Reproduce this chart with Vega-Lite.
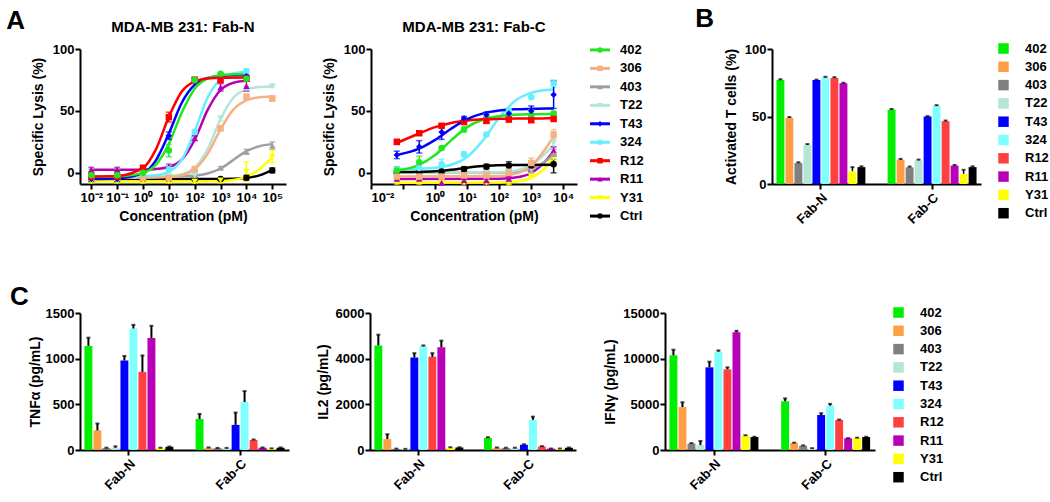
{
"$schema":"https://vega.github.io/schema/vega-lite/v6.json",
"background":"white",
"padding":{"left":6,"top":6,"right":0,"bottom":0},
"config":{
 "font":"Liberation Sans",
 "view":{"stroke":null},
 "axis":{"labelFont":"Liberation Sans","labelFontWeight":"bold","labelFontSize":13,"labelColor":"black","titleFont":"Liberation Sans","titleFontWeight":"bold","titleFontSize":14,"titleColor":"black","domainColor":"black","domainWidth":2,"tickColor":"black","tickWidth":2,"tickSize":5,"grid":false,"labelPadding":1},
 "legend":{"labelFont":"Liberation Sans","labelFontWeight":"bold","labelFontSize":13,"labelColor":"black"},
 "title":{"font":"Liberation Sans","fontWeight":"bold","fontSize":15,"color":"black"}
},
"datasets":{
"names":[{"c":"402"},{"c":"306"},{"c":"403"},{"c":"T22"},{"c":"T43"},{"c":"324"},{"c":"R12"},{"c":"R11"},{"c":"Y31"},{"c":"Ctrl"}],
"cN":[
{"c":"Ctrl","x":0.01,"y":-5},{"c":"Ctrl","x":1000,"y":-4.9},{"c":"Ctrl","x":3162,"y":-4.8},{"c":"Ctrl","x":10000,"y":-4.1},{"c":"Ctrl","x":31620,"y":-2.0},{"c":"Ctrl","x":100000,"y":2.5},
{"c":"Y31","x":0.01,"y":-7},{"c":"Y31","x":100,"y":-7},{"c":"Y31","x":316.2,"y":-6.9},{"c":"Y31","x":1000,"y":-6.6},{"c":"Y31","x":3162,"y":-5.7},{"c":"Y31","x":10000,"y":-3.1},{"c":"Y31","x":31620,"y":3.0},{"c":"Y31","x":100000,"y":12.5},
{"c":"403","x":0.01,"y":-3},{"c":"403","x":1,"y":-3},{"c":"403","x":10,"y":-2.9},{"c":"403","x":31.62,"y":-2.7},{"c":"403","x":100,"y":-2.2},{"c":"403","x":316.2,"y":-0.5},{"c":"403","x":1000,"y":3.5},{"c":"403","x":3162,"y":10.5},{"c":"403","x":10000,"y":17.5},{"c":"403","x":31620,"y":21.5},{"c":"403","x":100000,"y":23.2},
{"c":"T22","x":0.01,"y":-3},{"c":"T22","x":1,"y":-3},{"c":"T22","x":10,"y":-2.5},{"c":"T22","x":31.62,"y":-1.0},{"c":"T22","x":100,"y":4.2},{"c":"T22","x":316.2,"y":19.2},{"c":"T22","x":1000,"y":43.4},{"c":"T22","x":3162,"y":60.8},{"c":"T22","x":10000,"y":67.4},{"c":"T22","x":31620,"y":69.3},{"c":"T22","x":100000,"y":69.8},
{"c":"306","x":0.01,"y":-4},{"c":"306","x":1,"y":-4},{"c":"306","x":10,"y":-3.4},{"c":"306","x":31.62,"y":-1.9},{"c":"306","x":100,"y":2.9},{"c":"306","x":316.2,"y":15.3},{"c":"306","x":1000,"y":35.2},{"c":"306","x":3162,"y":51.3},{"c":"306","x":10000,"y":58.6},{"c":"306","x":31620,"y":61.0},{"c":"306","x":100000,"y":61.7},
{"c":"R11","x":0.01,"y":2.5},{"c":"R11","x":0.1,"y":2.5},{"c":"R11","x":1,"y":2.6},{"c":"R11","x":3.162,"y":3.1},{"c":"R11","x":10,"y":4.7},{"c":"R11","x":31.62,"y":10.6},{"c":"R11","x":100,"y":26.7},{"c":"R11","x":316.2,"y":50.8},{"c":"R11","x":1000,"y":66.9},{"c":"R11","x":3162,"y":72.8},{"c":"R11","x":10000,"y":74.4},
{"c":"324","x":0.01,"y":-3},{"c":"324","x":0.1,"y":-3},{"c":"324","x":1,"y":-2.7},{"c":"324","x":3.162,"y":-2.0},{"c":"324","x":10,"y":0.9},{"c":"324","x":31.62,"y":10.6},{"c":"324","x":100,"y":33.6},{"c":"324","x":316.2,"y":60.9},{"c":"324","x":1000,"y":75.5},{"c":"324","x":3162,"y":80.3},{"c":"324","x":10000,"y":81.6},
{"c":"T43","x":0.01,"y":-5},{"c":"T43","x":0.1,"y":-4.6},{"c":"T43","x":1,"y":-0.1},{"c":"T43","x":3.162,"y":10.1},{"c":"T43","x":10,"y":31.7},{"c":"T43","x":31.62,"y":56.6},{"c":"T43","x":100,"y":71.2},{"c":"T43","x":316.2,"y":76.6},{"c":"T43","x":1000,"y":78.3},{"c":"T43","x":10000,"y":79},
{"c":"402","x":0.01,"y":-3},{"c":"402","x":0.1,"y":-2.8},{"c":"402","x":1,"y":0},{"c":"402","x":3.162,"y":6.6},{"c":"402","x":10,"y":23.4},{"c":"402","x":31.62,"y":48.8},{"c":"402","x":100,"y":68.0},{"c":"402","x":316.2,"y":76.2},{"c":"402","x":1000,"y":78.9},{"c":"402","x":3162,"y":79.6},{"c":"402","x":10000,"y":79.9},
{"c":"R12","x":0.01,"y":-3},{"c":"R12","x":0.1,"y":-2.5},{"c":"R12","x":1,"y":4.0},{"c":"R12","x":3.162,"y":19.0},{"c":"R12","x":10,"y":45.2},{"c":"R12","x":31.62,"y":65.6},{"c":"R12","x":100,"y":73.8},{"c":"R12","x":316.2,"y":76.2},{"c":"R12","x":1000,"y":76.8},{"c":"R12","x":10000,"y":77.0}
],
"pN":[
{"c":"Ctrl","x":0.01,"y":-5,"e":1},{"c":"Ctrl","x":0.1,"y":-5,"e":1},{"c":"Ctrl","x":1,"y":-5,"e":1},{"c":"Ctrl","x":10,"y":-5,"e":1},{"c":"Ctrl","x":100,"y":-5,"e":1},{"c":"Ctrl","x":1000,"y":-5,"e":1},{"c":"Ctrl","x":10000,"y":-4,"e":2},{"c":"Ctrl","x":100000,"y":2,"e":2},
{"c":"Y31","x":0.01,"y":-7,"e":1},{"c":"Y31","x":0.1,"y":-7,"e":1},{"c":"Y31","x":1,"y":-7,"e":1},{"c":"Y31","x":10,"y":-7,"e":1},{"c":"Y31","x":100,"y":-7,"e":1},{"c":"Y31","x":1000,"y":-6,"e":2},{"c":"Y31","x":10000,"y":1,"e":8},{"c":"Y31","x":100000,"y":13,"e":5},
{"c":"403","x":0.01,"y":-3,"e":1},{"c":"403","x":0.1,"y":-3,"e":1},{"c":"403","x":1,"y":-3,"e":1},{"c":"403","x":10,"y":-3,"e":1},{"c":"403","x":100,"y":-2,"e":2},{"c":"403","x":1000,"y":4,"e":1},{"c":"403","x":10000,"y":17,"e":2},{"c":"403","x":100000,"y":22,"e":3},
{"c":"T22","x":0.01,"y":-3,"e":1},{"c":"T22","x":0.1,"y":-3,"e":1},{"c":"T22","x":1,"y":-3,"e":1},{"c":"T22","x":10,"y":-3,"e":1},{"c":"T22","x":100,"y":-2,"e":1},{"c":"T22","x":1000,"y":44,"e":2},{"c":"T22","x":10000,"y":68,"e":2},{"c":"T22","x":100000,"y":70,"e":1},
{"c":"306","x":0.01,"y":-4,"e":1},{"c":"306","x":0.1,"y":-4,"e":1},{"c":"306","x":1,"y":-4,"e":1},{"c":"306","x":10,"y":-4,"e":1},{"c":"306","x":100,"y":3,"e":1},{"c":"306","x":1000,"y":36,"e":2},{"c":"306","x":10000,"y":61.5,"e":2},{"c":"306","x":100000,"y":60,"e":2},
{"c":"R11","x":0.01,"y":2.5,"e":2},{"c":"R11","x":0.1,"y":2.5,"e":2},{"c":"R11","x":1,"y":3,"e":1},{"c":"R11","x":10,"y":5,"e":2},{"c":"R11","x":100,"y":28,"e":2},{"c":"R11","x":1000,"y":69,"e":3},{"c":"R11","x":10000,"y":70,"e":4},
{"c":"324","x":0.01,"y":-3,"e":3},{"c":"324","x":0.1,"y":-3,"e":2},{"c":"324","x":1,"y":1,"e":2},{"c":"324","x":10,"y":3,"e":3},{"c":"324","x":100,"y":33,"e":2},{"c":"324","x":1000,"y":77,"e":2},{"c":"324","x":10000,"y":82,"e":2},
{"c":"T43","x":0.01,"y":-5,"e":2},{"c":"T43","x":0.1,"y":-5,"e":2},{"c":"T43","x":1,"y":0,"e":2},{"c":"T43","x":10,"y":30,"e":3},{"c":"T43","x":100,"y":75,"e":2},{"c":"T43","x":1000,"y":78,"e":2},{"c":"T43","x":10000,"y":78,"e":1},
{"c":"R12","x":0.01,"y":-3,"e":3},{"c":"R12","x":0.1,"y":-3,"e":2},{"c":"R12","x":1,"y":4,"e":2},{"c":"R12","x":10,"y":45,"e":4},{"c":"R12","x":100,"y":75,"e":2},{"c":"R12","x":1000,"y":75,"e":2},{"c":"R12","x":10000,"y":76,"e":2},
{"c":"402","x":0.01,"y":-2,"e":5},{"c":"402","x":0.1,"y":-2,"e":5},{"c":"402","x":1,"y":0,"e":2},{"c":"402","x":10,"y":18,"e":5},{"c":"402","x":100,"y":75,"e":2},{"c":"402","x":1000,"y":80,"e":1},{"c":"402","x":10000,"y":76,"e":2}
],
"cC":[
{"c":"Y31","x":0.064,"y":-8},{"c":"Y31","x":100,"y":-7.8},{"c":"Y31","x":316.2,"y":-7.0},{"c":"Y31","x":1000,"y":-4.0},{"c":"Y31","x":3162,"y":5.9},{"c":"Y31","x":5000,"y":12.4},
{"c":"R11","x":0.064,"y":-5},{"c":"R11","x":100,"y":-4.7},{"c":"R11","x":316.2,"y":-3.8},{"c":"R11","x":1000,"y":-0.1},{"c":"R11","x":3162,"y":11.0},{"c":"R11","x":5000,"y":17.5},
{"c":"403","x":0.064,"y":0},{"c":"403","x":100,"y":0.2},{"c":"403","x":316.2,"y":0.9},{"c":"403","x":1000,"y":3.2},{"c":"403","x":3162,"y":10.4},{"c":"403","x":5000,"y":15.1},
{"c":"T22","x":0.064,"y":0},{"c":"T22","x":100,"y":0.5},{"c":"T22","x":316.2,"y":1.8},{"c":"T22","x":1000,"y":6.4},{"c":"T22","x":3162,"y":17.2},{"c":"T22","x":5000,"y":22.7},
{"c":"Ctrl","x":0.064,"y":0.6},{"c":"Ctrl","x":0.316,"y":0.8},{"c":"Ctrl","x":1,"y":1.3},{"c":"Ctrl","x":3.162,"y":2.5},{"c":"Ctrl","x":10,"y":4.2},{"c":"Ctrl","x":31.62,"y":5.5},{"c":"Ctrl","x":100,"y":6.1},{"c":"Ctrl","x":316.2,"y":6.4},{"c":"Ctrl","x":5000,"y":6.5},
{"c":"306","x":0.064,"y":-3},{"c":"306","x":100,"y":-2.5},{"c":"306","x":316.2,"y":-0.8},{"c":"306","x":1000,"y":5.6},{"c":"306","x":3162,"y":21.5},{"c":"306","x":5000,"y":29.4},
{"c":"324","x":0.064,"y":3.1},{"c":"324","x":0.316,"y":3.4},{"c":"324","x":1,"y":4.1},{"c":"324","x":3.162,"y":6.5},{"c":"324","x":10,"y":12.8},{"c":"324","x":31.62,"y":26.4},{"c":"324","x":100,"y":44.6},{"c":"324","x":316.2,"y":58.2},{"c":"324","x":1000,"y":64.6},{"c":"324","x":3162,"y":66.9},{"c":"324","x":5000,"y":67.3},
{"c":"402","x":0.064,"y":1.7},{"c":"402","x":0.316,"y":6.4},{"c":"402","x":1,"y":14.4},{"c":"402","x":3.162,"y":26.2},{"c":"402","x":10,"y":36.9},{"c":"402","x":31.62,"y":43.1},{"c":"402","x":100,"y":45.8},{"c":"402","x":316.2,"y":46.9},{"c":"402","x":1000,"y":47.3},{"c":"402","x":3162,"y":47.5},{"c":"402","x":5000,"y":47.5},
{"c":"R12","x":0.064,"y":24.1},{"c":"R12","x":0.316,"y":31.8},{"c":"R12","x":1,"y":36.9},{"c":"R12","x":3.162,"y":40.3},{"c":"R12","x":10,"y":42.2},{"c":"R12","x":31.62,"y":43.2},{"c":"R12","x":100,"y":43.6},{"c":"R12","x":316.2,"y":43.8},{"c":"R12","x":1000,"y":43.9},{"c":"R12","x":3162,"y":44},{"c":"R12","x":5000,"y":44},
{"c":"T43","x":0.064,"y":14.4},{"c":"T43","x":0.316,"y":19.5},{"c":"T43","x":1,"y":26.6},{"c":"T43","x":3.162,"y":35.6},{"c":"T43","x":10,"y":43.4},{"c":"T43","x":31.62,"y":48.0},{"c":"T43","x":100,"y":50.3},{"c":"T43","x":316.2,"y":51.3},{"c":"T43","x":1000,"y":51.7},{"c":"T43","x":3162,"y":51.9},{"c":"T43","x":5000,"y":51.9}
],
"pC":[
{"c":"Y31","x":0.064,"y":-8,"e":1},{"c":"Y31","x":0.32,"y":-8,"e":1},{"c":"Y31","x":1.6,"y":-8,"e":1},{"c":"Y31","x":8,"y":-8,"e":1},{"c":"Y31","x":40,"y":-8,"e":1},{"c":"Y31","x":200,"y":-8.5,"e":1},{"c":"Y31","x":1000,"y":-2,"e":1},{"c":"Y31","x":5000,"y":12,"e":3},
{"c":"R11","x":0.064,"y":-5,"e":1},{"c":"R11","x":0.32,"y":-5,"e":1},{"c":"R11","x":1.6,"y":-8,"e":2},{"c":"R11","x":8,"y":-6,"e":3},{"c":"R11","x":40,"y":-6,"e":3},{"c":"R11","x":200,"y":-5,"e":2},{"c":"R11","x":1000,"y":3,"e":2},{"c":"R11","x":5000,"y":18,"e":3},
{"c":"403","x":0.064,"y":0,"e":1},{"c":"403","x":0.32,"y":0,"e":1},{"c":"403","x":1.6,"y":0,"e":1},{"c":"403","x":8,"y":1,"e":2},{"c":"403","x":40,"y":0,"e":1},{"c":"403","x":200,"y":1,"e":2},{"c":"403","x":1000,"y":2,"e":2},{"c":"403","x":5000,"y":15,"e":4},
{"c":"T22","x":0.064,"y":0,"e":1},{"c":"T22","x":0.32,"y":0,"e":1},{"c":"T22","x":1.6,"y":0.5,"e":1},{"c":"T22","x":8,"y":0.5,"e":1},{"c":"T22","x":40,"y":1,"e":1},{"c":"T22","x":200,"y":2,"e":1},{"c":"T22","x":1000,"y":3,"e":2},{"c":"T22","x":5000,"y":24,"e":3},
{"c":"Ctrl","x":0.064,"y":0,"e":1},{"c":"Ctrl","x":0.32,"y":0.5,"e":1},{"c":"Ctrl","x":1.6,"y":1,"e":1},{"c":"Ctrl","x":8,"y":3,"e":2},{"c":"Ctrl","x":40,"y":5,"e":2},{"c":"Ctrl","x":200,"y":6,"e":3},{"c":"Ctrl","x":1000,"y":6,"e":2},{"c":"Ctrl","x":5000,"y":7,"e":7},
{"c":"306","x":0.064,"y":-3,"e":4},{"c":"306","x":0.32,"y":-3,"e":2},{"c":"306","x":1.6,"y":-3,"e":2},{"c":"306","x":8,"y":-2,"e":2},{"c":"306","x":40,"y":-2,"e":3},{"c":"306","x":200,"y":0,"e":2},{"c":"306","x":1000,"y":8,"e":4},{"c":"306","x":5000,"y":31,"e":4},
{"c":"324","x":0.064,"y":3,"e":2},{"c":"324","x":0.32,"y":4,"e":3},{"c":"324","x":1.6,"y":7,"e":4},{"c":"324","x":8,"y":15,"e":2},{"c":"324","x":40,"y":31,"e":1},{"c":"324","x":200,"y":50,"e":2},{"c":"324","x":1000,"y":61,"e":1},{"c":"324","x":5000,"y":72,"e":3},
{"c":"402","x":0.064,"y":2,"e":3},{"c":"402","x":0.32,"y":8.5,"e":5},{"c":"402","x":1.6,"y":20,"e":1},{"c":"402","x":8,"y":35,"e":2},{"c":"402","x":40,"y":44,"e":4},{"c":"402","x":200,"y":46,"e":3},{"c":"402","x":1000,"y":47,"e":4},{"c":"402","x":5000,"y":48,"e":1.5},
{"c":"R12","x":0.064,"y":25,"e":2},{"c":"R12","x":0.32,"y":32,"e":1.5},{"c":"R12","x":1.6,"y":38,"e":1.5},{"c":"R12","x":8,"y":41,"e":1},{"c":"R12","x":40,"y":42,"e":2},{"c":"R12","x":200,"y":43,"e":1},{"c":"R12","x":1000,"y":42.5,"e":1.5},{"c":"R12","x":5000,"y":43.5,"e":1.5},
{"c":"T43","x":0.064,"y":14.5,"e":3},{"c":"T43","x":0.32,"y":21,"e":5},{"c":"T43","x":1.6,"y":33,"e":6},{"c":"T43","x":8,"y":44,"e":1.5},{"c":"T43","x":40,"y":47,"e":2},{"c":"T43","x":200,"y":48,"e":2},{"c":"T43","x":1000,"y":50,"e":4},{"c":"T43","x":5000,"y":63,"e":11}
],
"act":[
{"g":"Fab-N","c":"402","v":77,"h":77.6},{"g":"Fab-N","c":"306","v":49,"h":49.6},{"g":"Fab-N","c":"403","v":15.5,"h":16.1},{"g":"Fab-N","c":"T22","v":29,"h":29.6},{"g":"Fab-N","c":"T43","v":77,"h":77.3},{"g":"Fab-N","c":"324","v":78.8,"h":79.4},{"g":"Fab-N","c":"R12","v":78.5,"h":79.1},{"g":"Fab-N","c":"R11","v":74.6,"h":75.0},{"g":"Fab-N","c":"Y31","v":9.5,"h":12.5},{"g":"Fab-N","c":"Ctrl","v":12.5,"h":13.1},
{"g":"Fab-C","c":"402","v":55,"h":55.6},{"g":"Fab-C","c":"306","v":18,"h":18.6},{"g":"Fab-C","c":"403","v":12.3,"h":12.9},{"g":"Fab-C","c":"T22","v":17.5,"h":18.1},{"g":"Fab-C","c":"T43","v":50,"h":50.3},{"g":"Fab-C","c":"324","v":57.8,"h":58.4},{"g":"Fab-C","c":"R12","v":46.5,"h":47.0},{"g":"Fab-C","c":"R11","v":13.6,"h":14.1},{"g":"Fab-C","c":"Y31","v":7.5,"h":10.5},{"g":"Fab-C","c":"Ctrl","v":12.5,"h":13.1}
],
"tnf":[
{"g":"Fab-N","c":"402","v":1140,"h":1230},{"g":"Fab-N","c":"306","v":215,"h":290},{"g":"Fab-N","c":"403","v":20,"h":25},{"g":"Fab-N","c":"T22","v":25,"h":40},{"g":"Fab-N","c":"T43","v":980,"h":1030},{"g":"Fab-N","c":"324","v":1330,"h":1370},{"g":"Fab-N","c":"R12","v":855,"h":1035},{"g":"Fab-N","c":"R11","v":1225,"h":1360},{"g":"Fab-N","c":"Y31","v":20,"h":25},{"g":"Fab-N","c":"Ctrl","v":35,"h":38},
{"g":"Fab-C","c":"402","v":340,"h":395},{"g":"Fab-C","c":"306","v":25,"h":28},{"g":"Fab-C","c":"403","v":20,"h":23},{"g":"Fab-C","c":"T22","v":20,"h":23},{"g":"Fab-C","c":"T43","v":275,"h":410},{"g":"Fab-C","c":"324","v":525,"h":645},{"g":"Fab-C","c":"R12","v":110,"h":115},{"g":"Fab-C","c":"R11","v":25,"h":28},{"g":"Fab-C","c":"Y31","v":15,"h":18},{"g":"Fab-C","c":"Ctrl","v":25,"h":28}
],
"il2":[
{"g":"Fab-N","c":"402","v":4580,"h":5050},{"g":"Fab-N","c":"306","v":480,"h":690},{"g":"Fab-N","c":"403","v":50,"h":60},{"g":"Fab-N","c":"T22","v":40,"h":50},{"g":"Fab-N","c":"T43","v":4050,"h":4240},{"g":"Fab-N","c":"324","v":4540,"h":4580},{"g":"Fab-N","c":"R12","v":4080,"h":4240},{"g":"Fab-N","c":"R11","v":4500,"h":4790},{"g":"Fab-N","c":"Y31","v":110,"h":120},{"g":"Fab-N","c":"Ctrl","v":110,"h":120},
{"g":"Fab-C","c":"402","v":530,"h":560},{"g":"Fab-C","c":"306","v":100,"h":110},{"g":"Fab-C","c":"403","v":90,"h":100},{"g":"Fab-C","c":"T22","v":90,"h":100},{"g":"Fab-C","c":"T43","v":230,"h":250},{"g":"Fab-C","c":"324","v":1320,"h":1460},{"g":"Fab-C","c":"R12","v":150,"h":170},{"g":"Fab-C","c":"R11","v":60,"h":65},{"g":"Fab-C","c":"Y31","v":60,"h":65},{"g":"Fab-C","c":"Ctrl","v":100,"h":110}
],
"ifn":[
{"g":"Fab-N","c":"402","v":10370,"h":10980},{"g":"Fab-N","c":"306","v":4700,"h":5220},{"g":"Fab-N","c":"403","v":700,"h":750},{"g":"Fab-N","c":"T22","v":550,"h":990},{"g":"Fab-N","c":"T43","v":9050,"h":9670},{"g":"Fab-N","c":"324","v":10770,"h":10900},{"g":"Fab-N","c":"R12","v":8830,"h":9050},{"g":"Fab-N","c":"R11","v":12880,"h":13050},{"g":"Fab-N","c":"Y31","v":1570,"h":1620},{"g":"Fab-N","c":"Ctrl","v":1420,"h":1450},
{"g":"Fab-C","c":"402","v":5330,"h":5650},{"g":"Fab-C","c":"306","v":770,"h":800},{"g":"Fab-C","c":"403","v":470,"h":500},{"g":"Fab-C","c":"T22","v":150,"h":200},{"g":"Fab-C","c":"T43","v":3830,"h":4030},{"g":"Fab-C","c":"324","v":4850,"h":5050},{"g":"Fab-C","c":"R12","v":3280,"h":3330},{"g":"Fab-C","c":"R11","v":1280,"h":1300},{"g":"Fab-C","c":"Y31","v":1310,"h":1350},{"g":"Fab-C","c":"Ctrl","v":1420,"h":1450}
]
},
"vconcat":[
{"hconcat":[
  {"title":{"text":"A","anchor":"start","frame":"bounds","fontSize":26,"dx":-25,"offset":-14},
   "hconcat":[
    {"width":206,"height":135,"title":{"text":"MDA-MB 231: Fab-N","offset":8},
     "layer":[
      {"data":{"name":"cN"},"mark":{"type":"line","interpolate":"monotone","strokeWidth":2.5},
       "encoding":{"x":{"field":"x","type":"quantitative","scale":{"type":"log","domain":[0.00366,339000],"nice":false},"axis":{"values":[0.01,0.1,1,10,100,1000,10000,100000],"labelExpr":"datum.value < 0.05 ? '10⁻²' : datum.value < 0.5 ? '10⁻¹' : datum.value < 5 ? '10⁰' : datum.value < 50 ? '10¹' : datum.value < 500 ? '10²' : datum.value < 5000 ? '10³' : datum.value < 50000 ? '10⁴' : '10⁵'","title":"Concentration (pM)","titlePadding":5,"labelPadding":2}},
        "y":{"field":"y","type":"quantitative","scale":{"domain":[-9,100],"nice":false,"zero":false},"axis":{"values":[0,25,50,75,100],"title":"Specific Lysis (%)","titlePadding":7}},
        "color":{"field":"c","type":"nominal","scale":{"domain":["402","306","403","T22","T43","324","R12","R11","Y31","Ctrl"],"range":["#22e622","#f4b183","#a0a0a0","#b4e6d6","#0000ff","#66eeff","#ff0000","#b400b4","#ffff00","#000000"]},"legend":null}}},
      {"data":{"name":"pN"},"mark":{"type":"errorbar","ticks":true,"size":6,"thickness":1.5},
       "encoding":{"x":{"field":"x","type":"quantitative","scale":{"type":"log","domain":[0.00366,339000],"nice":false},"title":"Concentration (pM)"},
        "y":{"field":"y","type":"quantitative","scale":{"domain":[-9,100],"nice":false,"zero":false},"title":"Specific Lysis (%)"},
        "yError":{"field":"e"},
        "color":{"field":"c","type":"nominal","legend":null}}},
      {"data":{"name":"pN"},"mark":{"type":"point","filled":true,"size":42,"opacity":1},
       "encoding":{"x":{"field":"x","type":"quantitative","scale":{"type":"log","domain":[0.00366,339000],"nice":false},"title":"Concentration (pM)"},
        "y":{"field":"y","type":"quantitative","scale":{"domain":[-9,100],"nice":false,"zero":false},"title":"Specific Lysis (%)"},
        "color":{"field":"c","type":"nominal","legend":null},
        "shape":{"field":"c","type":"nominal","scale":{"domain":["402","306","403","T22","T43","324","R12","R11","Y31","Ctrl"],"range":["circle","square","triangle-up","triangle-down","diamond","circle","square","triangle-up","triangle-down","circle"]},"legend":null}}}
     ]},
    {"hconcat":[
      {"width":206,"height":135,"title":{"text":"MDA-MB 231: Fab-C","offset":8},
       "layer":[
        {"data":{"name":"cC"},"mark":{"type":"line","interpolate":"monotone","strokeWidth":2.5},
         "encoding":{"x":{"field":"x","type":"quantitative","scale":{"type":"log","domain":[0.01,26800],"nice":false},"axis":{"values":[0.01,0.1,1,10,100,1000,10000],"labelExpr":"datum.value < 0.05 ? '10⁻²' : datum.value < 0.5 ? '10⁻¹' : datum.value < 5 ? '10⁰' : datum.value < 50 ? '10¹' : datum.value < 500 ? '10²' : datum.value < 5000 ? '10³' : '10⁴'","title":"Concentration (pM)","titlePadding":5,"labelPadding":2}},
          "y":{"field":"y","type":"quantitative","scale":{"domain":[-9,100],"nice":false,"zero":false},"axis":{"values":[0,25,50,75,100],"title":"Specific Lysis (%)","titlePadding":7}},
          "color":{"field":"c","type":"nominal","scale":{"domain":["402","306","403","T22","T43","324","R12","R11","Y31","Ctrl"],"range":["#22e622","#f4b183","#a0a0a0","#b4e6d6","#0000ff","#66eeff","#ff0000","#b400b4","#ffff00","#000000"]},"legend":null}}},
        {"data":{"name":"pC"},"mark":{"type":"errorbar","ticks":true,"size":6,"thickness":1.5},
         "encoding":{"x":{"field":"x","type":"quantitative","scale":{"type":"log","domain":[0.01,26800],"nice":false},"title":"Concentration (pM)"},
          "y":{"field":"y","type":"quantitative","scale":{"domain":[-9,100],"nice":false,"zero":false},"title":"Specific Lysis (%)"},
          "yError":{"field":"e"},
          "color":{"field":"c","type":"nominal","legend":null}}},
        {"data":{"name":"pC"},"mark":{"type":"point","filled":true,"size":42,"opacity":1},
         "encoding":{"x":{"field":"x","type":"quantitative","scale":{"type":"log","domain":[0.01,26800],"nice":false},"title":"Concentration (pM)"},
          "y":{"field":"y","type":"quantitative","scale":{"domain":[-9,100],"nice":false,"zero":false},"title":"Specific Lysis (%)"},
          "color":{"field":"c","type":"nominal","legend":null},
          "shape":{"field":"c","type":"nominal","scale":{"domain":["402","306","403","T22","T43","324","R12","R11","Y31","Ctrl"],"range":["circle","square","triangle-up","triangle-down","diamond","circle","square","triangle-up","triangle-down","circle"]},"legend":null}}}
       ]},
      {"width":62,"height":168,"data":{"name":"names"},
       "layer":[
        {"mark":{"type":"rule","strokeWidth":3},
         "encoding":{"x":{"datum":0,"type":"quantitative","scale":{"domain":[0,3.1],"nice":false,"zero":false},"axis":null},"x2":{"datum":1},
          "y":{"field":"c","type":"nominal","scale":{"type":"point","domain":["402","306","403","T22","T43","324","R12","R11","Y31","Ctrl"],"padding":0.05},"axis":null},
          "color":{"field":"c","type":"nominal","scale":{"domain":["402","306","403","T22","T43","324","R12","R11","Y31","Ctrl"],"range":["#22e622","#f4b183","#a0a0a0","#b4e6d6","#0000ff","#66eeff","#ff0000","#b400b4","#ffff00","#000000"]},"legend":null}}},
        {"mark":{"type":"point","filled":true,"size":30,"opacity":1},
         "encoding":{"x":{"datum":0.5,"type":"quantitative"},"y":{"field":"c","type":"nominal"},
          "color":{"field":"c","type":"nominal","legend":null},
          "shape":{"field":"c","type":"nominal","scale":{"domain":["402","306","403","T22","T43","324","R12","R11","Y31","Ctrl"],"range":["circle","square","triangle-up","triangle-down","diamond","circle","square","triangle-up","triangle-down","circle"]},"legend":null}}},
        {"mark":{"type":"text","align":"left","baseline":"middle","fontSize":13,"fontWeight":"bold","font":"Liberation Sans","color":"black"},
         "encoding":{"x":{"datum":1.5,"type":"quantitative"},"y":{"field":"c","type":"nominal"},"text":{"field":"c"}}}
       ]}
     ],
     "spacing":11,
     "resolve":{"scale":{"color":"independent","shape":"independent"}}}
   ],
   "spacing":36,
   "resolve":{"scale":{"color":"independent","shape":"independent"}}},
  {"width":209,"height":135,
   "title":{"text":"B","anchor":"start","frame":"bounds","fontSize":26,"dx":-29,"offset":10},
   "data":{"name":"act"},
   "layer":[
    {"mark":{"type":"bar"},
     "encoding":{"x":{"field":"g","type":"nominal","sort":["Fab-N","Fab-C"],"scale":{"paddingInner":0.2,"paddingOuter":0.04},"axis":{"title":null,"labelAngle":-45,"labelPadding":2}},
      "xOffset":{"field":"c","type":"nominal","scale":{"domain":["402","306","403","T22","T43","324","R12","R11","Y31","Ctrl"],"paddingInner":0.12}},
      "y":{"field":"v","type":"quantitative","scale":{"domain":[0,100],"nice":false},"axis":{"values":[0,25,50,75,100],"title":"Activated T cells (%)","titlePadding":6}},
      "color":{"field":"c","type":"nominal","scale":{"domain":["402","306","403","T22","T43","324","R12","R11","Y31","Ctrl"],"range":["#00ee00","#ff9f45","#808080","#b3e6d4","#0000ff","#80ffff","#ff4040","#b800b8","#ffff00","#000000"]},
       "legend":{"title":null,"symbolType":"square","symbolSize":110,"symbolStrokeWidth":0,"labelOffset":15,"orient":"none","legendX":225,"legendY":-7,"rowPadding":4.3}}}},
    {"mark":{"type":"rule","color":"black","strokeWidth":1.5},
     "encoding":{"x":{"field":"g","type":"nominal","sort":["Fab-N","Fab-C"]},"xOffset":{"field":"c","type":"nominal"},"y":{"field":"v","type":"quantitative"},"y2":{"field":"h"}}},
    {"mark":{"type":"tick","color":"black","thickness":2,"size":4},
     "encoding":{"x":{"field":"g","type":"nominal","sort":["Fab-N","Fab-C"]},"xOffset":{"field":"c","type":"nominal"},"y":{"field":"h","type":"quantitative"}}}
   ]}
 ],
 "spacing":43,
 "resolve":{"scale":{"color":"independent","shape":"independent"}}},
{"title":{"text":"C","anchor":"start","frame":"bounds","fontSize":26,"dx":-18,"offset":-4},
 "hconcat":[
  {"width":209,"height":137,"data":{"name":"tnf"},
   "layer":[
    {"mark":{"type":"bar"},
     "encoding":{"x":{"field":"g","type":"nominal","sort":["Fab-N","Fab-C"],"scale":{"paddingInner":0.2,"paddingOuter":0.04},"axis":{"title":null,"labelAngle":-45,"labelPadding":2}},
      "xOffset":{"field":"c","type":"nominal","scale":{"domain":["402","306","403","T22","T43","324","R12","R11","Y31","Ctrl"],"paddingInner":0.12}},
      "y":{"field":"v","type":"quantitative","scale":{"domain":[0,1500],"nice":false},"axis":{"values":[0,500,1000,1500],"format":"d","title":"TNFα (pg/mL)","titlePadding":3}},
      "color":{"field":"c","type":"nominal","scale":{"domain":["402","306","403","T22","T43","324","R12","R11","Y31","Ctrl"],"range":["#00ee00","#ff9f45","#808080","#b3e6d4","#0000ff","#80ffff","#ff4040","#b800b8","#ffff00","#000000"]},"legend":null}}},
    {"mark":{"type":"rule","color":"black","strokeWidth":2},
     "encoding":{"x":{"field":"g","type":"nominal","sort":["Fab-N","Fab-C"]},"xOffset":{"field":"c","type":"nominal"},"y":{"field":"v","type":"quantitative"},"y2":{"field":"h"}}},
    {"mark":{"type":"tick","color":"black","thickness":2,"size":4},
     "encoding":{"x":{"field":"g","type":"nominal","sort":["Fab-N","Fab-C"]},"xOffset":{"field":"c","type":"nominal"},"y":{"field":"h","type":"quantitative"}}}
   ]},
  {"width":206,"height":137,"data":{"name":"il2"},
   "layer":[
    {"mark":{"type":"bar"},
     "encoding":{"x":{"field":"g","type":"nominal","sort":["Fab-N","Fab-C"],"scale":{"paddingInner":0.2,"paddingOuter":0.04},"axis":{"title":null,"labelAngle":-45,"labelPadding":2}},
      "xOffset":{"field":"c","type":"nominal","scale":{"domain":["402","306","403","T22","T43","324","R12","R11","Y31","Ctrl"],"paddingInner":0.12}},
      "y":{"field":"v","type":"quantitative","scale":{"domain":[0,6000],"nice":false},"axis":{"values":[0,2000,4000,6000],"format":"d","title":"IL2 (pg/mL)","titlePadding":5}},
      "color":{"field":"c","type":"nominal","scale":{"domain":["402","306","403","T22","T43","324","R12","R11","Y31","Ctrl"],"range":["#00ee00","#ff9f45","#808080","#b3e6d4","#0000ff","#80ffff","#ff4040","#b800b8","#ffff00","#000000"]},"legend":null}}},
    {"mark":{"type":"rule","color":"black","strokeWidth":2},
     "encoding":{"x":{"field":"g","type":"nominal","sort":["Fab-N","Fab-C"]},"xOffset":{"field":"c","type":"nominal"},"y":{"field":"v","type":"quantitative"},"y2":{"field":"h"}}},
    {"mark":{"type":"tick","color":"black","thickness":2,"size":4},
     "encoding":{"x":{"field":"g","type":"nominal","sort":["Fab-N","Fab-C"]},"xOffset":{"field":"c","type":"nominal"},"y":{"field":"h","type":"quantitative"}}}
   ]},
  {"width":210,"height":137,"data":{"name":"ifn"},
   "layer":[
    {"mark":{"type":"bar"},
     "encoding":{"x":{"field":"g","type":"nominal","sort":["Fab-N","Fab-C"],"scale":{"paddingInner":0.2,"paddingOuter":0.04},"axis":{"title":null,"labelAngle":-45,"labelPadding":2}},
      "xOffset":{"field":"c","type":"nominal","scale":{"domain":["402","306","403","T22","T43","324","R12","R11","Y31","Ctrl"],"paddingInner":0.12}},
      "y":{"field":"v","type":"quantitative","scale":{"domain":[0,15000],"nice":false},"axis":{"values":[0,5000,10000,15000],"format":"d","title":"IFNγ (pg/mL)","titlePadding":5}},
      "color":{"field":"c","type":"nominal","scale":{"domain":["402","306","403","T22","T43","324","R12","R11","Y31","Ctrl"],"range":["#00ee00","#ff9f45","#808080","#b3e6d4","#0000ff","#80ffff","#ff4040","#b800b8","#ffff00","#000000"]},
       "legend":{"title":null,"symbolType":"square","symbolSize":110,"symbolStrokeWidth":0,"labelOffset":15,"orient":"none","legendX":227,"legendY":-7,"rowPadding":4.3}}}},
    {"mark":{"type":"rule","color":"black","strokeWidth":2},
     "encoding":{"x":{"field":"g","type":"nominal","sort":["Fab-N","Fab-C"]},"xOffset":{"field":"c","type":"nominal"},"y":{"field":"v","type":"quantitative"},"y2":{"field":"h"}}},
    {"mark":{"type":"tick","color":"black","thickness":2,"size":4},
     "encoding":{"x":{"field":"g","type":"nominal","sort":["Fab-N","Fab-C"]},"xOffset":{"field":"c","type":"nominal"},"y":{"field":"h","type":"quantitative"}}}
   ]}
 ],
 "spacing":27,
 "resolve":{"scale":{"color":"independent"}}}
],
"spacing":57,
"resolve":{"scale":{"color":"independent","shape":"independent"}}
}
